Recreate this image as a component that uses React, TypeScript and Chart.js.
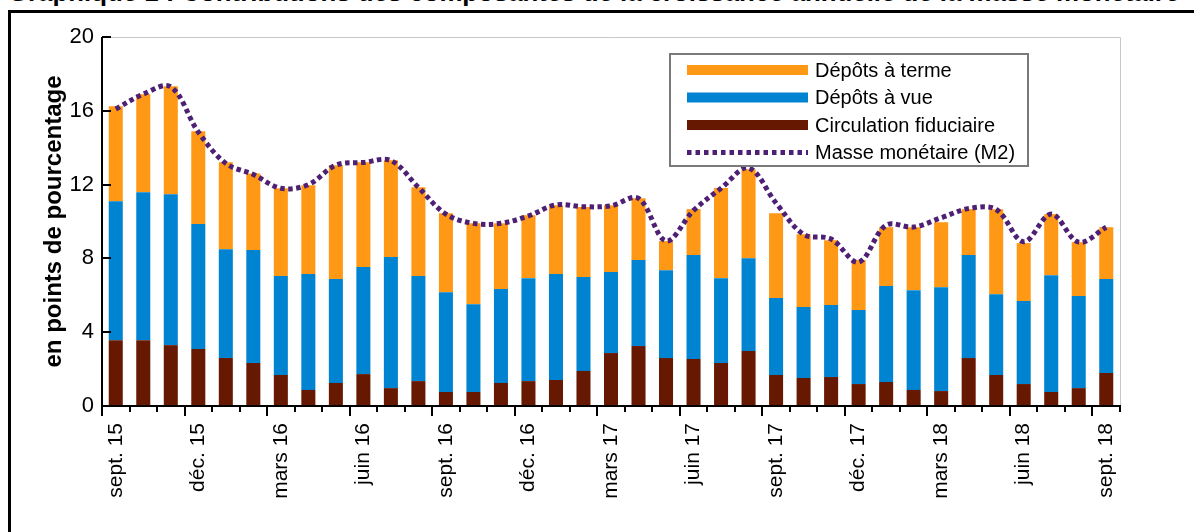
import React, { useEffect, useRef } from "react";
import { Chart, registerables } from "chart.js";

Chart.register(...registerables);

const MONTHS = [
  "sept. 15", "oct. 15", "nov. 15", "déc. 15", "janv. 16", "févr. 16", "mars 16", "avr. 16", "mai 16",
  "juin 16", "juil. 16", "août 16", "sept. 16", "oct. 16", "nov. 16", "déc. 16", "janv. 17", "févr. 17",
  "mars 17", "avr. 17", "mai 17", "juin 17", "juil. 17", "août 17", "sept. 17", "oct. 17", "nov. 17",
  "déc. 17", "janv. 18", "févr. 18", "mars 18", "avr. 18", "mai 18", "juin 18", "juil. 18", "août 18",
  "sept. 18",
];

const CIRCULATION = [
  3.57, 3.57, 3.3, 3.09, 2.6, 2.33, 1.68, 0.87, 1.25, 1.73, 0.97, 1.35, 0.76, 0.76, 1.25, 1.35, 1.41, 1.9,
  2.87, 3.25, 2.6, 2.55, 2.33, 2.98, 1.68, 1.52, 1.57, 1.19, 1.3, 0.87, 0.81, 2.6, 1.68, 1.19, 0.76, 0.97,
  1.79,
];

const DEPOTS_VUE = [
  7.53, 8.02, 8.18, 6.77, 5.9, 6.12, 5.36, 6.28, 5.63, 5.8, 7.1, 5.69, 5.41, 4.76, 5.09, 5.58, 5.74, 5.09,
  4.39, 4.66, 4.76, 5.63, 4.6, 5.03, 4.17, 3.84, 3.9, 4.01, 5.2, 5.41, 5.63, 5.58, 4.38, 4.5, 6.33, 4.99,
  5.09,
];

const DEPOTS_TERME = [
  5.15, 5.31, 5.85, 5.03, 4.71, 4.15, 4.76, 4.82, 6.17, 5.68, 5.25, 4.82, 4.28, 4.39, 3.57, 3.41, 3.73, 3.79,
  3.62, 3.35, 1.58, 2.49, 4.88, 4.82, 4.6, 3.95, 3.52, 2.71, 3.19, 3.41, 3.52, 2.49, 4.61, 3.14, 3.31, 2.92,
  2.81,
];

const M2 = [
  16.1, 16.9, 17.3, 14.85, 13.15, 12.55, 11.8, 12.0, 13.05, 13.2, 13.3, 11.85, 10.4, 9.9, 9.9, 10.3, 10.9,
  10.8, 10.85, 11.25, 8.95, 10.6, 11.8, 12.9, 11.0, 9.3, 9.05, 7.8, 9.8, 9.7, 10.2, 10.7, 10.65, 8.9, 10.4,
  8.88, 9.69,
];

const SERIES_NAMES = ["Circulation fiduciaire", "Dépôts à vue", "Dépôts à terme", "Masse monétaire (M2)"];
const TITLE = "Graphique 1 : Contributions des composantes de la croissance annuelle de la masse monétaire";
const Y_TITLE = "en points de pourcentage";

const FONT = '"Liberation Sans", Arial, sans-serif';

const decorPlugin = {
  id: "decor",
  afterDatasetsDraw(chart: any) {
    const { ctx, chartArea: a, scales } = chart;
    const x = scales.x;
    const y = scales.y;
    ctx.save();
    ctx.strokeStyle = "#c8c8c8";
    ctx.lineWidth = 1;
    ctx.beginPath();
    ctx.moveTo(a.left, a.top + 0.5);
    ctx.lineTo(a.right + 0.5, a.top + 0.5);
    ctx.lineTo(a.right + 0.5, a.bottom);
    ctx.stroke();

    ctx.strokeStyle = "#000";
    ctx.lineWidth = 2;
    ctx.beginPath();
    ctx.moveTo(a.left, a.top);
    ctx.lineTo(a.left, a.bottom);
    ctx.lineTo(a.right + 1, a.bottom);
    ctx.stroke();

    ctx.beginPath();
    y.ticks.forEach((t: any) => {
      const py = Math.round(y.getPixelForValue(t.value));
      ctx.moveTo(a.left, py);
      ctx.lineTo(a.left + 9, py);
    });
    const n = chart.data.labels.length;
    const w = (a.right - a.left) / n;
    for (let i = 0; i <= n; i++) {
      const px = Math.round(x.getPixelForValue(0) - w / 2 + i * w);
      const len = i % 3 === 0 ? 10 : 6;
      ctx.moveTo(px, a.bottom);
      ctx.lineTo(px, a.bottom + len);
    }
    ctx.stroke();
    ctx.restore();
  },
  afterDraw(chart: any) {
    const { ctx, chartArea: a } = chart;
    const ds = chart.data.datasets;
    const bx = a.left + 568;
    const by = a.top + 17;
    const bw = 358;
    const bh = 112;
    ctx.save();
    ctx.fillStyle = "#fff";
    ctx.fillRect(bx, by, bw, bh);
    ctx.strokeStyle = "#7a7a7a";
    ctx.lineWidth = 2;
    ctx.strokeRect(bx, by, bw, bh);
    const order = [2, 1, 0, 3];
    ctx.font = `20px ${FONT}`;
    ctx.textBaseline = "middle";
    ctx.textAlign = "left";
    order.forEach((di, k) => {
      const d = ds[di];
      const cy = by + 16 + k * 27.5;
      const sx = bx + 17;
      const sw = 121;
      if (d.type === "line") {
        ctx.strokeStyle = d.borderColor;
        ctx.lineWidth = 5;
        ctx.setLineDash([4.5, 4]);
        ctx.beginPath();
        ctx.moveTo(sx, cy);
        ctx.lineTo(sx + sw, cy);
        ctx.stroke();
        ctx.setLineDash([]);
      } else {
        ctx.fillStyle = d.backgroundColor;
        ctx.fillRect(sx, cy - 5, sw, 10);
      }
      ctx.fillStyle = "#000";
      ctx.fillText(d.label, bx + 145, cy + 1);
    });
    ctx.restore();
  },
};

export default function App() {
  const canvasRef = useRef<HTMLCanvasElement | null>(null);

  useEffect(() => {
    if (!canvasRef.current) return;
    const chart = new Chart(canvasRef.current, {
      type: "bar",
      data: {
        labels: MONTHS,
        datasets: [
          {
            type: "bar",
            label: SERIES_NAMES[0],
            data: CIRCULATION,
            backgroundColor: "#661800",
            stack: "comp",
            order: 1,
          },
          {
            type: "bar",
            label: SERIES_NAMES[1],
            data: DEPOTS_VUE,
            backgroundColor: "#0083D1",
            stack: "comp",
            order: 1,
          },
          {
            type: "bar",
            label: SERIES_NAMES[2],
            data: DEPOTS_TERME,
            backgroundColor: "#FF9814",
            stack: "comp",
            order: 1,
          },
          {
            type: "line",
            label: SERIES_NAMES[3],
            data: M2,
            borderColor: "#4E2075",
            borderWidth: 5,
            borderDash: [4.5, 3.5],
            pointRadius: 0,
            tension: 0.35,
            fill: false,
            stack: "m2",
            order: 0,
          } as any,
        ],
      },
      options: {
        animation: false,
        responsive: true,
        maintainAspectRatio: false,
        layout: { padding: { left: 0, top: 37, right: 74, bottom: 0 } },
        datasets: {
          bar: { barPercentage: 0.51, categoryPercentage: 1 },
        },
        plugins: {
          legend: { display: false },
          tooltip: { enabled: false },
        },
        scales: {
          x: {
            stacked: true,
            grid: { display: false, drawTicks: false },
            border: { display: false },
            ticks: {
              autoSkip: false,
              minRotation: 90,
              maxRotation: 90,
              padding: 17,
              color: "#000",
              font: { family: FONT, size: 21 },
              callback: (_v: any, i: number) => (i % 3 === 0 ? MONTHS[i] : ""),
            },
            afterFit: (s: any) => {
              s.height = 126;
            },
          },
          y: {
            stacked: true,
            min: 0,
            max: 20,
            grid: { display: false, drawTicks: false },
            border: { display: false },
            ticks: {
              stepSize: 4,
              padding: 8,
              color: "#000",
              font: { family: FONT, size: 22 },
            },
            title: {
              display: true,
              text: Y_TITLE,
              color: "#000",
              font: { family: FONT, size: 24, weight: "bold" },
              padding: { top: 40, bottom: 0 },
            },
            afterFit: (s: any) => {
              s.width = 102;
            },
          },
        },
      },
      plugins: [decorPlugin],
    });
    return () => chart.destroy();
  }, []);

  return (
    <div
      style={{
        position: "fixed",
        left: 0,
        top: 0,
        width: 1194,
        height: 532,
        overflow: "hidden",
        background: "#fff",
      }}
    >
      <div
        style={{
          position: "absolute",
          left: 8,
          top: -21,
          fontFamily: FONT,
          fontWeight: "bold",
          fontSize: 25.8,
          lineHeight: "26px",
          whiteSpace: "nowrap",
          color: "#000",
        }}
      >
        {TITLE}
      </div>
      <div
        style={{
          position: "absolute",
          left: 8,
          top: 10,
          width: 1300,
          height: 700,
          border: "3px solid #000",
          background: "#fff",
        }}
      />
      <div style={{ position: "absolute", left: 0, top: 0, width: 1194, height: 532 }}>
        <canvas ref={canvasRef} />
      </div>
    </div>
  );
}
